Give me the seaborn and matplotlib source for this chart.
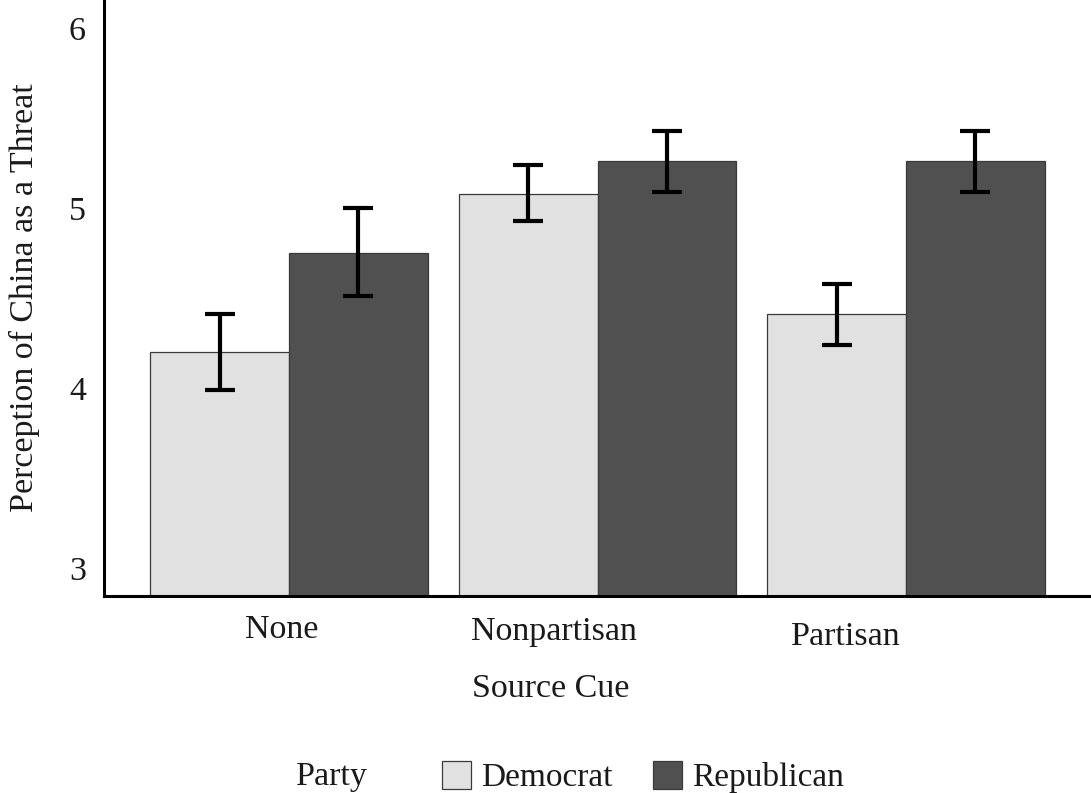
import numpy as np
import pandas as pd
import matplotlib
matplotlib.use("Agg")
import matplotlib.pyplot as plt
import matplotlib.transforms as mtransforms
import seaborn as sns
from matplotlib.patches import Patch

# ---- data ----
categories = ["None", "Nonpartisan", "Partisan"]
parties = ["Democrat", "Republican"]
dem_means = [4.20, 5.08, 4.41]
rep_means = [4.75, 5.26, 5.26]
dem_lo = [3.99, 4.93, 4.24]
dem_hi = [4.41, 5.24, 4.58]
rep_lo = [4.51, 5.09, 5.09]
rep_hi = [5.00, 5.43, 5.43]
yticks = [3, 4, 5, 6]

colors = {"Democrat": "#e0e1e0", "Republican": "#4f504f"}

df = pd.DataFrame({
    "Source Cue": categories * 2,
    "Party": ["Democrat"] * 3 + ["Republican"] * 3,
    "value": dem_means + rep_means,
})

sns.set_theme(style="white")
plt.rcParams["font.family"] = ["Liberation Serif", "DejaVu Serif"]

fig = plt.figure(figsize=(10.91, 7.93), dpi=100)
ax = fig.add_axes([104 / 1091, (793 - 596) / 793, 987 / 1091, 596 / 793])

sns.barplot(data=df, x="Source Cue", y="value", hue="Party", order=categories,
            hue_order=parties, palette=colors, saturation=1, width=0.9,
            errorbar=None, edgecolor="#3a3a3a", linewidth=0.9, ax=ax)

half = 0.9 / 4
xs = np.arange(len(categories))
for off, m, lo, hi in [(-half, dem_means, dem_lo, dem_hi), (half, rep_means, rep_lo, rep_hi)]:
    m = np.array(m); lo = np.array(lo); hi = np.array(hi)
    ax.errorbar(xs + off, m, yerr=[m - lo, hi - m], fmt="none", ecolor="black",
                elinewidth=3, capsize=11, capthick=3, zorder=5)

ax.set_xlim(-0.6, 2.6)
ax.set_ylim(2.844, 6.156)
ax.set_yticks(yticks)
ax.set_yticklabels([str(t) for t in yticks])
ax.tick_params(axis="both", length=0, labelsize=24.5, colors="#1a1a1a")
ax.tick_params(axis="y", pad=13)
ax.tick_params(axis="x", pad=13)

# the reference's category labels sit slightly off-centre
label_shift_px = [(-7, 0), (-44, -2), (-60, -7)]
for lab, (dx, dy) in zip(ax.get_xticklabels(), label_shift_px):
    lab.set_transform(lab.get_transform() +
                      mtransforms.ScaledTranslation(dx / 100, dy / 100, fig.dpi_scale_trans))

for s in ["top", "right"]:
    ax.spines[s].set_visible(False)
for s in ["left", "bottom"]:
    ax.spines[s].set_color("black")
    ax.spines[s].set_linewidth(2.2)

ax.set_xlabel("Source Cue", fontsize=24.5, color="#1a1a1a")
ax.set_ylabel("Perception of China as a Threat", fontsize=24.5, color="#1a1a1a", labelpad=21)
ax.xaxis.set_label_coords(0.453, -0.13)

leg = ax.get_legend()
if leg is not None:
    leg.remove()

handles = [Patch(facecolor=colors[p], edgecolor="#3a3a3a", linewidth=0.9) for p in parties]
fig.legend(handles, parties, loc="center", bbox_to_anchor=(643 / 1091, 1 - 777 / 793),
           ncol=2, frameon=False, fontsize=24, handlelength=0.85, handleheight=0.9,
           handletextpad=0.3, columnspacing=1.23, labelcolor="#1a1a1a")
fig.text(296 / 1091, 1 - 777 / 793, "Party", fontsize=24.5, color="#1a1a1a",
         ha="left", va="center")

fig.savefig("out.png", dpi=100)
